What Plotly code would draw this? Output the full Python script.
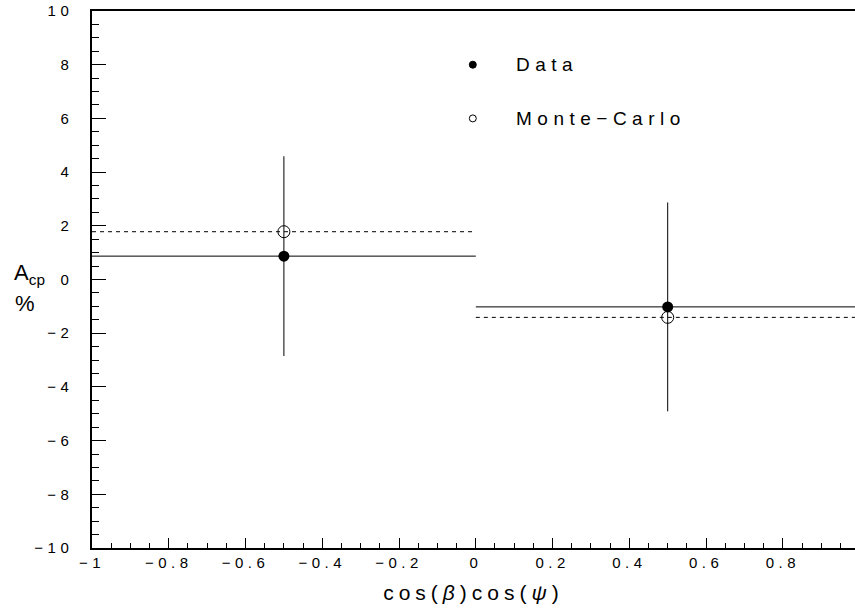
import plotly.graph_objects as go

# Bin centres and half-widths in cos(beta)cos(psi)
bin_centers = [-0.5, 0.5]
bin_half_widths = [0.5, 0.5]

# CP asymmetry (%) per bin
data_acp = [0.87, -1.02]
data_acp_err = [3.72, 3.89]
mc_acp = [1.78, -1.41]

# Axis tick values
x_tick_values = [-1.0, -0.8, -0.6, -0.4, -0.2, 0.0, 0.2, 0.4, 0.6, 0.8]
y_tick_values = [-10, -8, -6, -4, -2, 0, 2, 4, 6, 8, 10]

FONT = "Liberation Sans"


def spaced(text, px):
    return f'<span style="letter-spacing:{px}px">{text}</span>'


def fmt(v):
    s = f"{abs(v):g}"
    return ("\u2212" + s) if v < 0 else s


x_tick_text = [spaced(fmt(v), 4.5) for v in x_tick_values]
y_tick_text = [spaced(fmt(v), 4.5) for v in y_tick_values]

fig = go.Figure()

# Monte-Carlo: dashed horizontal bin bars
mc_x, mc_y = [], []
for c, h, v in zip(bin_centers, bin_half_widths, mc_acp):
    mc_x += [c - h, c + h, None]
    mc_y += [v, v, None]
fig.add_trace(go.Scatter(x=mc_x, y=mc_y, mode="lines",
                         line=dict(color="black", width=1, dash="4px,4px"),
                         hoverinfo="skip", showlegend=False))
fig.add_trace(go.Scatter(x=bin_centers, y=mc_acp, mode="markers",
                         marker=dict(symbol="circle-open", size=12, color="black",
                                     line=dict(width=1, color="black")),
                         name="Monte\u2212Carlo", showlegend=False))

# Data: filled markers with vertical and horizontal error bars
fig.add_trace(go.Scatter(
    x=bin_centers, y=data_acp, mode="markers",
    marker=dict(symbol="circle", size=11, color="black"),
    error_y=dict(type="data", array=data_acp_err, visible=True,
                 color="black", thickness=1, width=0),
    error_x=dict(type="data", array=bin_half_widths, visible=True,
                 color="black", thickness=1, width=0),
    name="Data", showlegend=False))

# Legend glyphs and labels
legend_rows = [("Data", 8, "circle"), ("Monte\u2212Carlo", 6, "open")]
for label, yv, kind in legend_rows:
    fig.add_shape(type="circle", xref="x", yref="y",
                  xsizemode="pixel", ysizemode="pixel",
                  xanchor=0, yanchor=yv, x0=-6.5, x1=0.5, y0=-3.5, y1=3.5,
                  line=dict(color="black", width=1),
                  fillcolor="black" if kind == "circle" else "rgba(0,0,0,0)")
    fig.add_annotation(x=0, y=yv, xref="x", yref="y", xshift=38,
                       text=spaced(label, 5.5), showarrow=False,
                       xanchor="left", yanchor="middle",
                       font=dict(family=FONT, size=19, color="black"))

# Y-axis label A_cp %
fig.add_annotation(xref="paper", yref="y", x=0, y=0.2, xshift=-80,
                   text="A<sub>cp</sub>", showarrow=False,
                   xanchor="left", yanchor="middle",
                   font=dict(family=FONT, size=22, color="black"))
fig.add_annotation(xref="paper", yref="y", x=0, y=-0.9, xshift=-79,
                   text="%", showarrow=False,
                   xanchor="left", yanchor="middle",
                   font=dict(family=FONT, size=22, color="black"))

axis_common = dict(showgrid=False, zeroline=False, showline=True,
                   linecolor="black", linewidth=1.5, ticks="inside",
                   tickcolor="black", tickwidth=1,
                   tickfont=dict(family=FONT, size=15, color="black"))

fig.update_xaxes(range=[-1, 0.988], tickmode="array", tickvals=x_tick_values,
                 ticktext=x_tick_text, ticklen=10, mirror=True,
                 minor=dict(dtick=0.05, tick0=0, ticklen=5, ticks="inside",
                            tickcolor="black", tickwidth=1),
                 title=dict(text=spaced("cos(<i>\u03b2</i>)cos(<i>\u03c8</i>)", 5),
                            font=dict(family=FONT, size=21, color="black"),
                            standoff=16),
                 **axis_common)
fig.update_yaxes(range=[-10, 10], tickmode="array", tickvals=y_tick_values,
                 ticktext=y_tick_text, ticklen=14, ticklabelstandoff=14,
                 minor=dict(dtick=0.5, tick0=0, ticklen=7, ticks="inside",
                            tickcolor="black", tickwidth=1),
                 **axis_common)

fig.update_layout(width=855, height=609,
                  margin=dict(l=92, r=0, t=11, b=61),
                  paper_bgcolor="white", plot_bgcolor="white",
                  showlegend=False)

fig.write_html("out.html")
